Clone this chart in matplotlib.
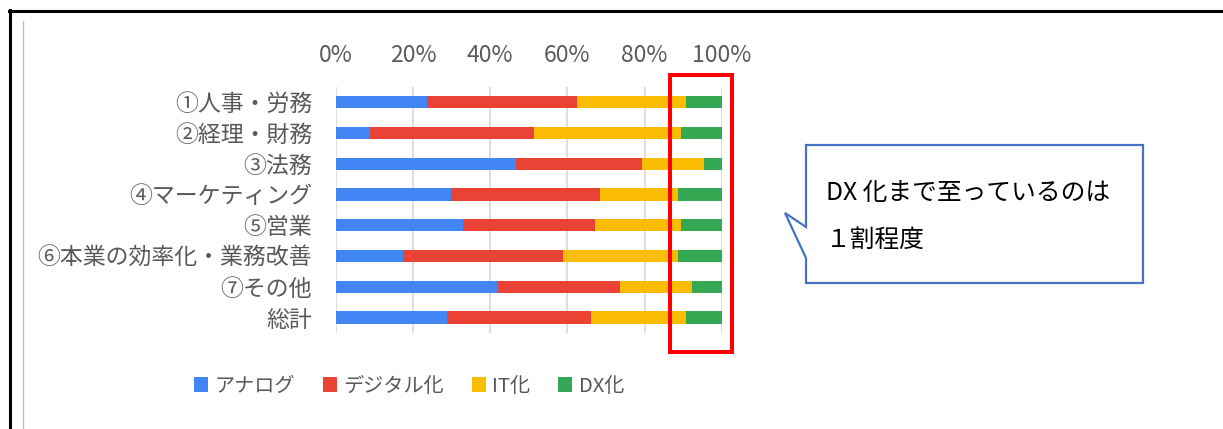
import matplotlib
matplotlib.use("Agg")
import matplotlib.pyplot as plt
import numpy as np
from matplotlib.patches import Polygon, Rectangle
from matplotlib.lines import Line2D

plt.rcParams["font.family"] = ["Noto Sans CJK JP", "DejaVu Sans"]

# data (share of each stage, %)
categories = ["①人事・労務", "②経理・財務", "③法務", "④マーケティング",
              "⑤営業", "⑥本業の効率化・業務改善", "⑦その他", "総計"]
analog = [23.7, 9.0, 46.8, 29.8, 33.0, 17.4, 42.0, 28.8]
digital = [38.7, 42.3, 32.5, 38.6, 34.1, 41.6, 31.7, 37.3]
it_ka = [28.4, 38.2, 16.1, 20.4, 22.4, 29.8, 18.7, 24.7]
dx_ka = [9.2, 10.5, 4.6, 11.2, 10.5, 11.2, 7.6, 9.2]
series_names = ["アナログ", "デジタル化", "IT化", "DX化"]
series_colors = ["#4285F4", "#EA4335", "#FBBC04", "#34A853"]
tick_vals = [0, 20, 40, 60, 80, 100]
tick_labels = ["0%", "20%", "40%", "60%", "80%", "100%"]
note_lines = ["DX 化まで至っているのは", "１割程度"]

W, H = 1223, 429
fig = plt.figure(figsize=(W / 100, H / 100), dpi=100)


def fx(x):
    return x / W


def fy(y):
    return 1 - y / H


ax = fig.add_axes([fx(335.7), fy(333), (721.7 - 335.7) / W, (333 - 86.7) / H])

y = np.arange(len(categories))
left = np.zeros(len(categories))
for vals, name, color in zip([analog, digital, it_ka, dx_ka], series_names, series_colors):
    ax.barh(y, vals, left=left, height=0.4, color=color, label=name, zorder=3)
    left += np.array(vals)

ax.set_xlim(0, 100)
ax.set_ylim(len(categories) - 0.5, -0.5)
ax.set_xticks(tick_vals)
ax.set_xticklabels(tick_labels)
ax.set_yticks(y)
ax.set_yticklabels(categories)
ax.xaxis.tick_top()
ax.tick_params(axis="x", length=0, pad=14, labelsize=16.5, labelcolor="#595959")
ax.tick_params(axis="y", length=0, pad=17, labelsize=16.5, labelcolor="#595959")
ax.grid(axis="x", color="#D9D9D9", linewidth=1.2, zorder=0)
for s in ax.spines.values():
    s.set_visible(False)

leg = fig.legend(loc="center", bbox_to_anchor=(fx(409), fy(386)), ncol=4,
                 frameon=False, fontsize=14.5, handlelength=0.7, handleheight=0.7,
                 handletextpad=0.3, columnspacing=1.4)
for t in leg.get_texts():
    t.set_color("#595959")

# frame lines
fig.add_artist(Line2D([fx(9), 1], [fy(11), fy(11)], color="black", lw=2.2))
fig.add_artist(Line2D([fx(10), fx(10)], [fy(10), 0], color="black", lw=2.2))
fig.add_artist(Line2D([fx(23), fx(23)], [fy(21), 0], color="#BFBFBF", lw=1))

# red highlight box
fig.add_artist(Rectangle((fx(670), fy(352)), fx(732) - fx(670), fy(74.7) - fy(352),
                         transform=fig.transFigure, fill=False, edgecolor="#FF0000", lw=2.9))

# callout
pts = [(806, 145), (1143, 145), (1143, 283), (806, 283), (806, 258), (785, 213), (806, 227)]
fig.add_artist(Polygon([(fx(a), fy(b)) for a, b in pts], closed=True,
                       transform=fig.transFigure, facecolor="white",
                       edgecolor="#4472C4", lw=1.6))
fig.text(fx(826), fy(193), note_lines[0], fontsize=17.8, va="center", ha="left", color="black")
fig.text(fx(826), fy(240), note_lines[1], fontsize=17.8, va="center", ha="left", color="black")

fig.savefig("out.png", dpi=100)
